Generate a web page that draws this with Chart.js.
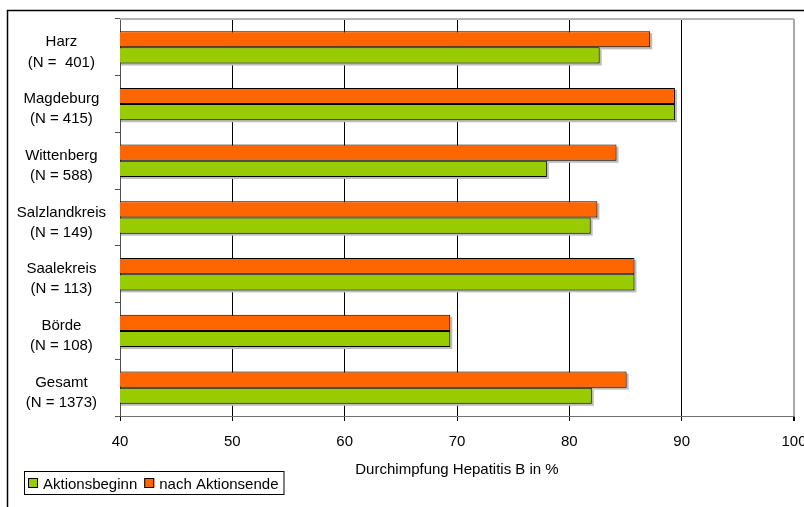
<!DOCTYPE html>
<html>
<head>
<meta charset="utf-8">
<script src="https://cdn.jsdelivr.net/npm/chart.js@4.4.1/dist/chart.umd.min.js"></script>
<style>
  html, body { margin: 0; padding: 0; background: #ffffff; }
  #wrap { width: 804px; height: 507px; }
</style>
</head>
<body>
<div id="wrap"><canvas id="c" width="804" height="507"></canvas></div>
<script>
// Regions (Landkreise) with sample sizes, shown as two-line axis labels
const regions = ['Harz', 'Magdeburg', 'Wittenberg', 'Salzlandkreis', 'Saalekreis', 'Börde', 'Gesamt'];
const sampleSizes = ['(N =  401)', '(N = 415)', '(N = 588)', '(N = 149)', '(N = 113)', '(N = 108)', '(N = 1373)'];

// Hepatitis B vaccination coverage in percent
const afterCampaign = [87.2, 89.4, 84.2, 82.5, 85.8, 69.4, 85.1];   // nach Aktionsende
const campaignStart = [82.7, 89.4, 78.0, 81.9, 85.8, 69.4, 82.0];   // Aktionsbeginn

const xTicks = [40, 50, 60, 70, 80, 90, 100];
const xTitle = 'Durchimpfung Hepatitis B in %';

const FONT = 'Arial, "Liberation Sans", sans-serif';
const ORANGE = '#FF6600';
const GREEN = '#99CC00';

const labels = regions.map((r, i) => [r, sampleSizes[i]]);

// white page, outer frame and top edge of the plot
const framePlugin = {
  id: 'frame',
  beforeDraw(chart) {
    const ctx = chart.ctx;
    ctx.save();
    ctx.fillStyle = '#ffffff';
    ctx.fillRect(0, 0, chart.width, chart.height);
    ctx.restore();
  },
  afterDraw(chart) {
    const ctx = chart.ctx;
    const a = chart.chartArea;
    ctx.save();
    ctx.strokeStyle = '#b4b4b4';
    ctx.lineWidth = 2;
    ctx.beginPath();
    ctx.moveTo(a.left, a.top);
    ctx.lineTo(a.right, a.top);
    ctx.stroke();
    // outer frame (runs off the right and bottom of the page)
    ctx.strokeStyle = '#000000';
    ctx.lineWidth = 1.5;
    ctx.beginPath();
    ctx.moveTo(7.5, chart.height + 5);
    ctx.lineTo(7.5, 10.5);
    ctx.lineTo(chart.width + 5, 10.5);
    ctx.stroke();
    ctx.restore();
  }
};

// soft gray drop shadow behind each bar, kept inside the plot area
const shadowPlugin = {
  id: 'barShadow',
  beforeDatasetsDraw(chart) {
    const ctx = chart.ctx;
    const a = chart.chartArea;
    ctx.save();
    ctx.beginPath();
    ctx.rect(a.left + 1, a.top, a.right - a.left, a.bottom - a.top - 1);
    ctx.clip();
    ctx.fillStyle = '#bcbcbc';
    chart.data.datasets.forEach((ds, di) => {
      const meta = chart.getDatasetMeta(di);
      meta.data.forEach(bar => {
        const x0 = Math.min(bar.base, bar.x);
        const x1 = Math.max(bar.base, bar.x);
        if (!isFinite(x0) || !isFinite(x1)) return;
        ctx.fillRect(x0 + 2, bar.y - bar.height / 2 + 2, x1 - x0, bar.height);
      });
    });
    ctx.restore();
  }
};

// boxed legend in the lower left corner
const boxLegendPlugin = {
  id: 'boxLegend',
  afterDraw(chart) {
    const ctx = chart.ctx;
    const items = chart.data.datasets.map(d => ({ text: d.label, color: d.backgroundColor })).reverse();
    ctx.save();
    ctx.font = '15px ' + FONT;
    ctx.textBaseline = 'alphabetic';
    const boxX = 24, boxY = 471, boxH = 23;
    let x = boxX + 4;
    const parts = [];
    items.forEach(it => {
      const w = ctx.measureText(it.text).width;
      parts.push({ it, x, w });
      x += 15 + w + 7;
    });
    const boxW = x - boxX - 2;
    ctx.strokeStyle = '#000000';
    ctx.lineWidth = 1;
    ctx.strokeRect(boxX + 0.5, boxY + 0.5, boxW, boxH);
    parts.forEach(p => {
      ctx.fillStyle = p.it.color;
      ctx.fillRect(p.x, boxY + 7, 10, 10);
      ctx.strokeStyle = '#000000';
      ctx.strokeRect(p.x + 0.5, boxY + 7.5, 9, 9);
      ctx.fillStyle = '#000000';
      ctx.fillText(p.it.text, p.x + 15, boxY + 18);
    });
    ctx.restore();
  }
};

new Chart(document.getElementById('c'), {
  type: 'bar',
  data: {
    labels: labels,
    datasets: [
      {
        label: 'nach Aktionsende',
        data: afterCampaign,
        backgroundColor: ORANGE,
        borderColor: '#000000',
        borderWidth: 1,
        borderSkipped: false,
        categoryPercentage: 0.57,
        barPercentage: 1.0
      },
      {
        label: 'Aktionsbeginn',
        data: campaignStart,
        backgroundColor: GREEN,
        borderColor: '#000000',
        borderWidth: 1,
        borderSkipped: false,
        categoryPercentage: 0.57,
        barPercentage: 1.0
      }
    ]
  },
  options: {
    indexAxis: 'y',
    responsive: false,
    animation: false,
    devicePixelRatio: 1,
    layout: { padding: { left: 10, top: 19, right: 10, bottom: 24 } },
    plugins: {
      legend: { display: false },
      tooltip: { enabled: false }
    },
    scales: {
      x: {
        type: 'linear',
        min: 40,
        max: 100,
        afterBuildTicks(scale) {
          scale.ticks = xTicks.map(v => ({ value: v }));
        },
        afterFit(scale) {
          scale.height = 67;
          scale.paddingLeft = 0;
          scale.paddingRight = 0;
        },
        grid: {
          color: ctx => (ctx.tick && ctx.tick.value === 100) ? '#a8a8a8' : (ctx.tick && ctx.tick.value === 40 ? 'rgba(0,0,0,0)' : '#000000'),
          lineWidth: ctx => (ctx.tick && ctx.tick.value === 100) ? 2 : 1,
          tickColor: '#000000',
          tickLength: 5
        },
        border: { color: '#707070', width: 1 },
        ticks: {
          color: '#000000',
          font: { family: FONT, size: 15 },
          padding: 12,
          maxRotation: 0
        },
        title: {
          display: true,
          text: xTitle,
          color: '#000000',
          font: { family: FONT, size: 15 },
          padding: { top: 0, bottom: 4 }
        }
      },
      y: {
        type: 'category',
        offset: true,
        afterFit(scale) {
          scale.width = 110;
          scale.paddingTop = 0;
          scale.paddingBottom = 0;
        },
        grid: {
          offset: true,
          drawOnChartArea: false,
          tickLength: 5,
          tickColor: '#505050'
        },
        border: { color: '#505050', width: 1 },
        ticks: {
          color: '#000000',
          font: { family: FONT, size: 15, lineHeight: 1.35 },
          crossAlign: 'center',
          padding: 9,
          labelOffset: 5,
          autoSkip: false
        }
      }
    }
  },
  plugins: [framePlugin, shadowPlugin, boxLegendPlugin]
});
</script>
</body>
</html>
